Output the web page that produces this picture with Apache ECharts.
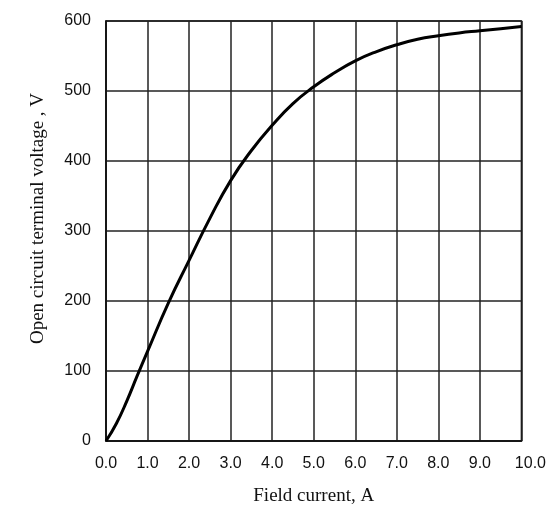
<!DOCTYPE html>
<html>
<head>
<meta charset="utf-8">
<script src="https://cdn.jsdelivr.net/npm/echarts@6/dist/echarts.min.js"></script>
<style>
  html, body { margin: 0; padding: 0; background: #fff; }
  #box { width: 549px; height: 512px; }
</style>
</head>
<body>
<div id="box"></div>
<script>
// field current (A) and open circuit voltage (V)
const current = [0, 0.25, 0.5, 0.75, 1.0, 1.5, 2.0, 2.5, 3.0, 3.5, 4.0, 4.5, 5.0, 5.5, 6.0, 6.5, 7.0, 7.5, 8.0, 8.5, 9.0, 9.5, 10.0];
const voltage = [0, 25, 57, 93, 128, 197, 258, 318, 372, 415, 451, 482, 506, 526, 543, 556, 566, 574, 579, 583, 586, 589, 592];
const xTicks = ['0.0', '1.0', '2.0', '3.0', '4.0', '5.0', '6.0', '7.0', '8.0', '9.0', '10.0'];

let myecharts = echarts.init(document.getElementById('box'));
let option = {
  animation: false,
  grid: {
    left: 106,
    right: 23,
    top: 21,
    bottom: 71,
    show: true,
    borderColor: '#111',
    borderWidth: 1.5
  },
  xAxis: {
    type: 'value',
    min: 0,
    max: 10,
    interval: 1,
    name: 'Field current, A',
    nameLocation: 'middle',
    nameGap: 46,
    nameTextStyle: { fontFamily: 'Liberation Serif', fontSize: 19, color: '#111' },
    axisLine: { lineStyle: { color: '#111', width: 1.5 } },
    axisTick: { show: false },
    splitLine: { lineStyle: { color: '#222', width: 1.5 } },
    axisLabel: {
      margin: 15,
      fontFamily: 'Liberation Sans',
      fontSize: 16,
      color: '#111',
      formatter: function (v) {
        let s = xTicks[Math.round(v)];
        return v === 10 ? '{last|' + s + '}' : s;
      },
      rich: {
        last: { fontFamily: 'Liberation Sans', fontSize: 16, color: '#111', padding: [0, 0, 2, 18] }
      }
    }
  },
  yAxis: {
    type: 'value',
    min: 0,
    max: 600,
    interval: 100,
    name: 'Open circuit terminal voltage , V',
    nameLocation: 'middle',
    nameGap: 58,
    nameRotate: 90,
    nameTextStyle: { fontFamily: 'Liberation Serif', fontSize: 19, color: '#111', padding: [0, 0, 0, 25] },
    axisLine: { show: true, lineStyle: { color: '#111', width: 1.5 } },
    axisTick: { show: false },
    splitLine: { lineStyle: { color: '#222', width: 1.5 } },
    axisLabel: {
      margin: 15,
      fontFamily: 'Liberation Sans',
      fontSize: 16,
      color: '#111'
    }
  },
  series: [{
    type: 'line',
    data: current.map((c, i) => [c, voltage[i]]),
    smooth: 0.5,
    symbol: 'none',
    lineStyle: { color: '#000', width: 3 }
  }]
};
myecharts.setOption(option);
</script>
</body>
</html>
